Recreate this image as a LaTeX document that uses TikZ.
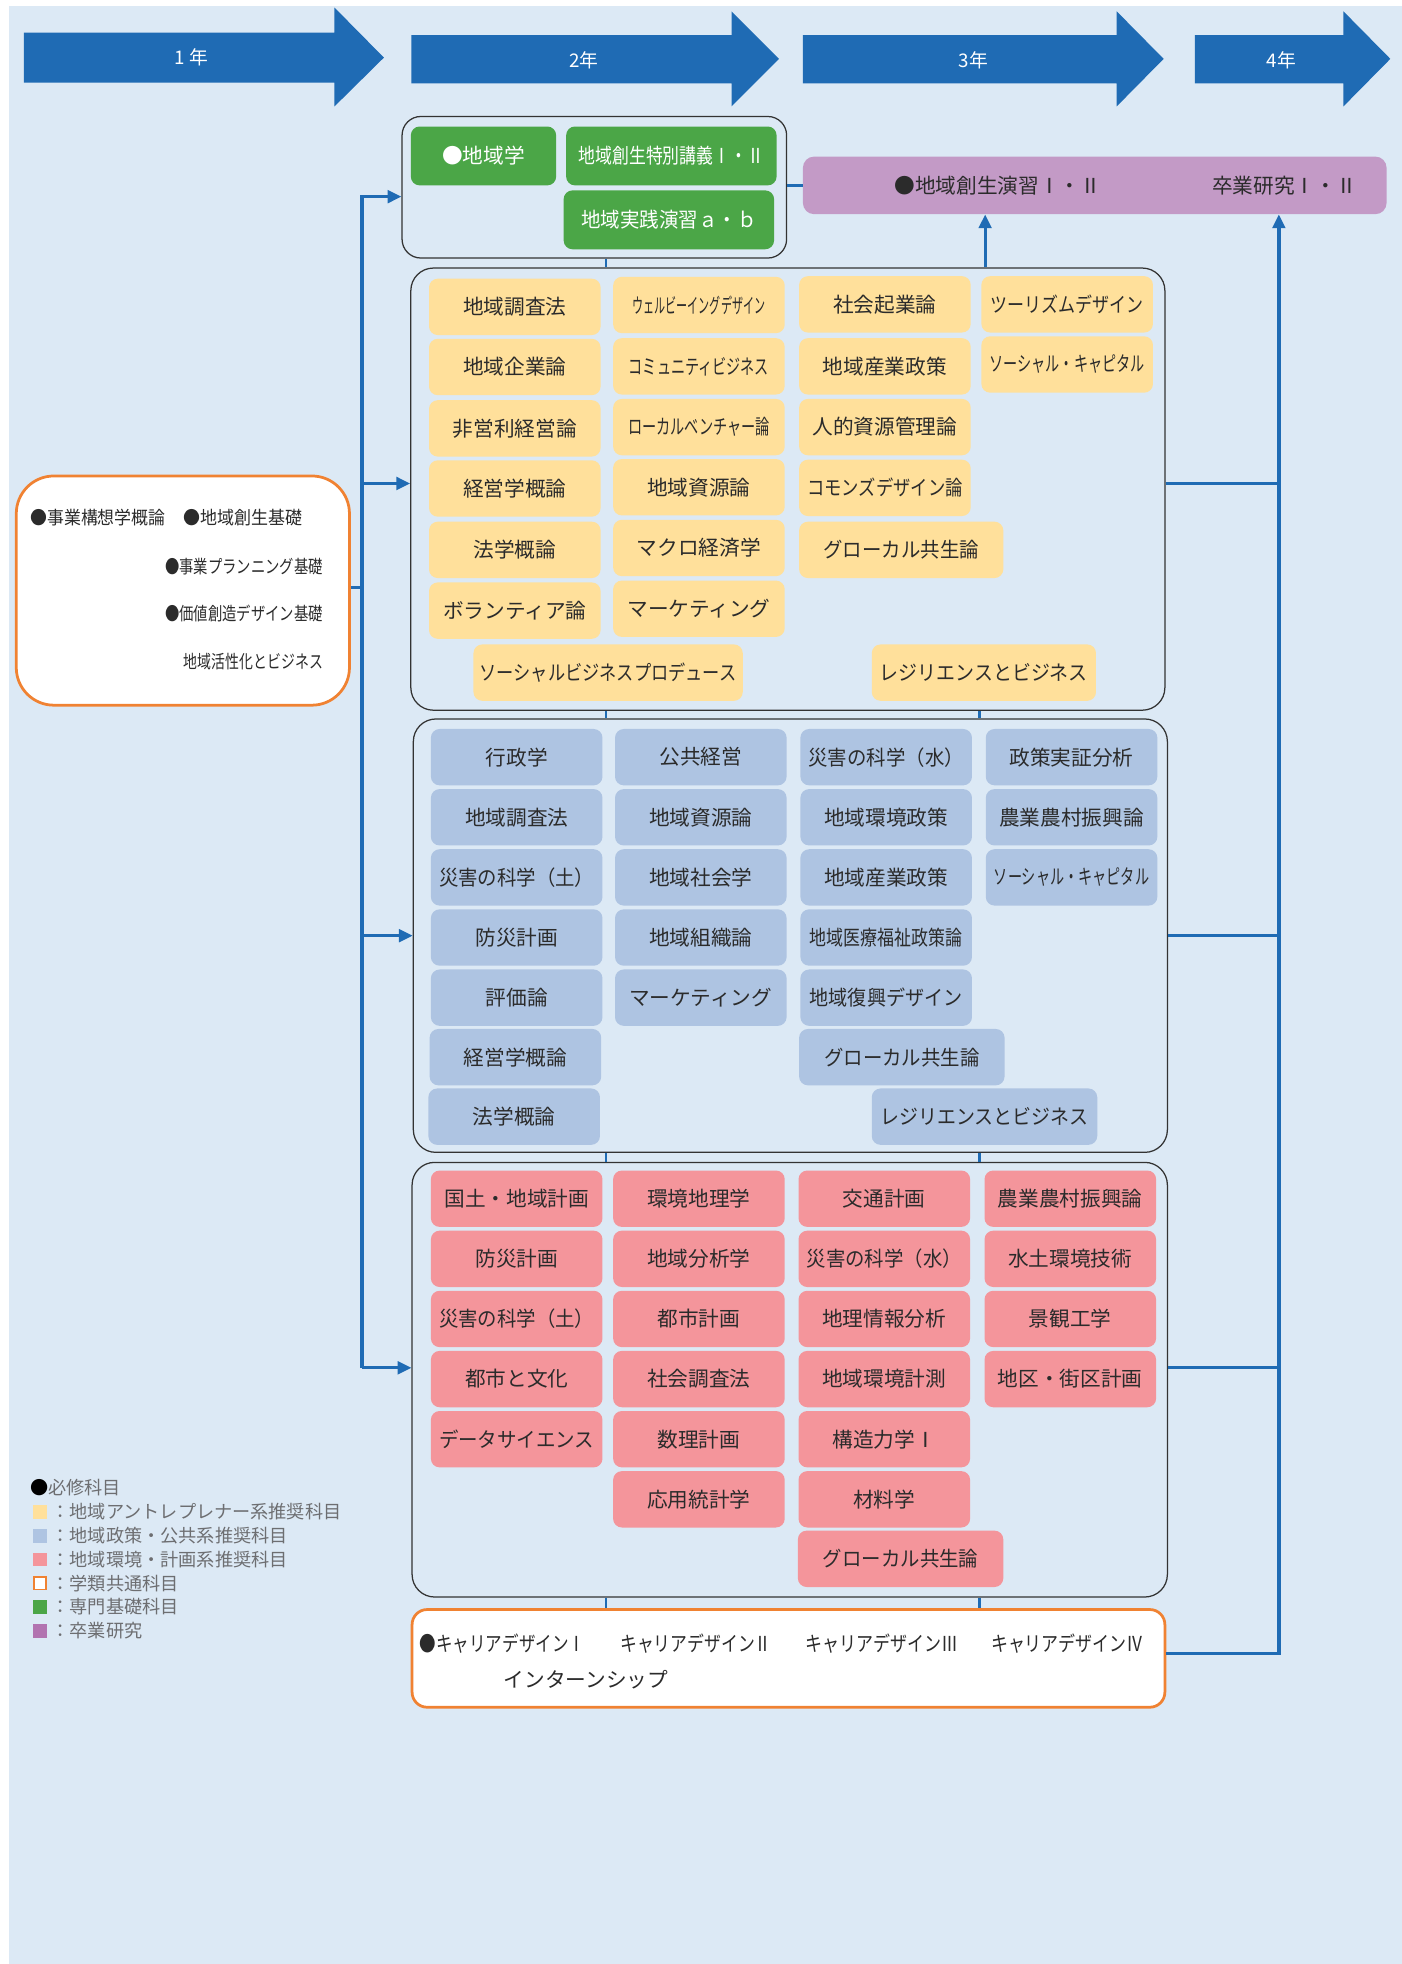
\documentclass[tikz,border=0pt]{standalone}
\usepackage{fontspec}
\usepackage{graphicx}
\usetikzlibrary{arrows.meta}
\newfontfamily\cjk{Noto Sans CJK JP}
\definecolor{cBg}{HTML}{DCE9F5}
\definecolor{cArr}{HTML}{1F6BB4}
\definecolor{cGrn}{HTML}{4BA647}
\definecolor{cPur}{HTML}{C39AC6}
\definecolor{cPurL}{HTML}{B273B0}
\definecolor{cYel}{HTML}{FFE09B}
\definecolor{cBlu}{HTML}{AEC4E2}
\definecolor{cRed}{HTML}{F4959B}
\definecolor{cOrg}{HTML}{F08232}
\definecolor{cTx}{HTML}{2B2B2B}
\definecolor{cLine}{HTML}{333333}
\definecolor{cLeg}{HTML}{6D6E71}
\newsavebox\fitsbox
\newcommand\fitx[2]{\sbox\fitsbox{#2}\ifdim\wd\fitsbox>#1pt\relax\resizebox*{#1pt}{\totalheight}{\usebox\fitsbox}\else\usebox\fitsbox\fi}
\tikzset{
  cbox/.style={rounded corners=7pt, minimum height=45pt, minimum width=137pt, inner sep=0pt, text=cTx, font=\cjk\fontsize{16.5}{18}\selectfont},
  yb/.style={cbox, fill=cYel},
  bb/.style={cbox, fill=cBlu},
  rbx/.style={cbox, fill=cRed},
  gb/.style={cbox, fill=cGrn, text=white, minimum height=47pt},
  grp/.style={draw=cLine, line width=1pt, rounded corners=18pt, inner sep=0pt},
  obox/.style={draw=cOrg, line width=2.2pt, fill=white, inner sep=0pt},
  conn/.style={draw=cArr, line width=2.6pt},
  lnk/.style={draw=cArr, line width=2pt},
  arr/.style={conn, -{Triangle[length=11pt,width=10pt]}},
  yr/.style={text=white, font=\cjk\fontsize{15}{16}\selectfont},
  ltx/.style={inner sep=0pt, text=cTx, font=\cjk\fontsize{14.5}{16}\selectfont},
  ctx/.style={inner sep=0pt, text=cTx, font=\cjk\fontsize{16.5}{18}\selectfont},
  lg/.style={anchor=west, inner sep=0pt, text=cLeg, font=\cjk\fontsize{14.5}{16}\selectfont},
  sq/.style={minimum size=11pt, inner sep=0pt},
}
\begin{document}
\begin{tikzpicture}[x=1pt,y=-1pt]
\useasboundingbox (0,0) rectangle (1119,1568);
\fill[white] (0,0) rectangle (1119,1568);
\fill[cBg] (7,5) rectangle (1119,1568);
% year arrows
\fill[cArr] (19,26) -- (267,26) -- (267,6) -- (306.5,46) -- (267,85) -- (267,66) -- (19,66) -- cycle;
\fill[cArr] (328.5,28) -- (584,28) -- (584,9) -- (622,47) -- (584,85) -- (584,66.5) -- (328.5,66.5) -- cycle;
\fill[cArr] (641,28) -- (891.5,28) -- (891.5,9) -- (929,47) -- (891.5,85) -- (891.5,66.5) -- (641,66.5) -- cycle;
\fill[cArr] (954,28) -- (1072.5,28) -- (1072.5,9) -- (1110,47) -- (1072.5,85) -- (1072.5,66.5) -- (954,66.5) -- cycle;
\node[yr] (yr1) at (153,46) {1 年};
\node[yr] (yr2) at (466,48) {2年};
\node[yr] (yr3) at (777,48) {3年};
\node[yr] (yr4) at (1023,48) {4年};
% groups
\node[grp, rounded corners=15pt, minimum width=307pt, minimum height=113pt] (gG) at (474.5,149.5) {};
\node[grp, minimum width=602pt, minimum height=353pt] (gY) at (629,390.5) {};
\node[grp, minimum width=602pt, minimum height=346pt] (gB) at (631,747) {};
\node[grp, minimum width=603pt, minimum height=347pt] (gR) at (630.5,1101.5) {};
\node[obox, rounded corners=12pt, minimum width=601pt, minimum height=78pt] (car) at (629.5,1324) {};
\node[obox, rounded corners=30pt, minimum width=266pt, minimum height=183pt] (lb) at (146,471.5) {};
\node[fill=cPur, rounded corners=9pt, inner sep=0pt, minimum width=466pt, minimum height=46pt] (pu) at (874,148) {};
\node[ctx] (pu1) at (796.5,148) {●地域創生演習Ⅰ・Ⅱ};
\node[ctx] (pu2) at (1025.5,148) {卒業研究Ⅰ・Ⅱ};
% green
\node[gb, minimum width=116pt] (g1) at (386,124.5) {●地域学};
\node[gb, minimum width=168pt] (g2) at (536,124.5) {\fitx{148}{地域創生特別講義Ⅰ・Ⅱ}};
\node[gb, minimum width=168pt] (g3) at (534,175.5) {\fitx{140}{地域実践演習ａ・ｂ}};
% yellow
\node[yb] (y11) at (411,245) {\fitx{124}{地域調査法}};
\node[yb] (y12) at (411,293) {\fitx{124}{地域企業論}};
\node[yb] (y13) at (411,342) {\fitx{124}{非営利経営論}};
\node[yb] (y14) at (411,390) {\fitx{124}{経営学概論}};
\node[yb] (y15) at (411,439) {\fitx{124}{法学概論}};
\node[yb] (y16) at (411,487.5) {\fitx{124}{ボランティア論}};
\node[yb] (y21) at (558,243.5) {\fitx{106}{ウェルビーイングデザイン}};
\node[yb] (y22) at (558,292.5) {\fitx{112}{コミュニティビジネス}};
\node[yb] (y23) at (558,341) {\fitx{113}{ローカルベンチャー論}};
\node[yb] (y24) at (558,389) {\fitx{124}{地域資源論}};
\node[yb] (y25) at (558,437.5) {\fitx{124}{マクロ経済学}};
\node[yb] (y26) at (558,486) {\fitx{124}{マーケティング}};
\node[yb] (y31) at (706.5,243) {\fitx{124}{社会起業論}};
\node[yb] (y32) at (706.5,292.5) {\fitx{124}{地域産業政策}};
\node[yb] (y33) at (706.5,341) {\fitx{124}{人的資源管理論}};
\node[yb] (y34) at (706.5,389.5) {\fitx{124}{コモンズデザイン論}};
\node[yb, minimum width=163pt] (y35) at (719.5,439) {\fitx{124}{グローカル共生論}};
\node[yb] (y41) at (852,243) {\fitx{122}{ツーリズムデザイン}};
\node[yb] (y42) at (852,291) {\fitx{124}{ソーシャル・キャピタル}};
\node[yb, minimum width=215pt] (y51) at (485.5,537) {\fitx{205}{ソーシャルビジネスプロデュース}};
\node[yb, minimum width=179pt] (y52) at (785.5,537) {\fitx{166}{レジリエンスとビジネス}};
% blue
\node[bb] (b11) at (412.5,604.5) {\fitx{124}{行政学}};
\node[bb] (b12) at (412.5,652.5) {\fitx{124}{地域調査法}};
\node[bb] (b13) at (412.5,700.5) {\fitx{124}{災害の科学（土）}};
\node[bb] (b14) at (412.5,748.5) {\fitx{124}{防災計画}};
\node[bb] (b15) at (412.5,796.5) {\fitx{124}{評価論}};
\node[bb] (b16) at (411.5,844) {\fitx{124}{経営学概論}};
\node[bb] (b17) at (410.5,891.5) {\fitx{124}{法学概論}};
\node[bb] (b21) at (559.5,604.5) {\fitx{124}{公共経営}};
\node[bb] (b22) at (559.5,652.5) {\fitx{124}{地域資源論}};
\node[bb] (b23) at (559.5,700.5) {\fitx{124}{地域社会学}};
\node[bb] (b24) at (559.5,748.5) {\fitx{124}{地域組織論}};
\node[bb] (b25) at (559.5,796.5) {\fitx{124}{マーケティング}};
\node[bb] (b31) at (707.5,604.5) {\fitx{124}{災害の科学（水）}};
\node[bb] (b32) at (707.5,652.5) {\fitx{124}{地域環境政策}};
\node[bb] (b33) at (707.5,700.5) {\fitx{124}{地域産業政策}};
\node[bb] (b34) at (707.5,748.5) {\fitx{122}{地域医療福祉政策論}};
\node[bb] (b35) at (707.5,796.5) {\fitx{122}{地域復興デザイン}};
\node[bb, minimum width=164pt] (b36) at (720,844) {\fitx{124}{グローカル共生論}};
\node[bb, minimum width=180pt] (b37) at (786,891.5) {\fitx{166}{レジリエンスとビジネス}};
\node[bb] (b41) at (855.5,604.5) {\fitx{124}{政策実証分析}};
\node[bb] (b42) at (855.5,652.5) {\fitx{124}{農業農村振興論}};
\node[bb] (b43) at (855.5,700.5) {\fitx{124}{ソーシャル・キャピタル}};
% red
\node[rbx] (r11) at (412.5,957) {\fitx{124}{国土・地域計画}};
\node[rbx] (r12) at (412.5,1005) {\fitx{124}{防災計画}};
\node[rbx] (r13) at (412.5,1053) {\fitx{124}{災害の科学（土）}};
\node[rbx] (r14) at (412.5,1101) {\fitx{124}{都市と文化}};
\node[rbx] (r15) at (412.5,1149) {\fitx{124}{データサイエンス}};
\node[rbx] (r21) at (558,957) {\fitx{124}{環境地理学}};
\node[rbx] (r22) at (558,1005) {\fitx{124}{地域分析学}};
\node[rbx] (r23) at (558,1053) {\fitx{124}{都市計画}};
\node[rbx] (r24) at (558,1101) {\fitx{124}{社会調査法}};
\node[rbx] (r25) at (558,1149) {\fitx{124}{数理計画}};
\node[rbx] (r26) at (558,1197) {\fitx{124}{応用統計学}};
\node[rbx] (r31) at (706,957) {\fitx{124}{交通計画}};
\node[rbx] (r32) at (706,1005) {\fitx{124}{災害の科学（水）}};
\node[rbx] (r33) at (706,1053) {\fitx{124}{地理情報分析}};
\node[rbx] (r34) at (706,1101) {\fitx{124}{地域環境計測}};
\node[rbx] (r35) at (706,1149) {\fitx{124}{構造力学Ⅰ}};
\node[rbx] (r36) at (706,1197) {\fitx{124}{材料学}};
\node[rbx, minimum width=164pt] (r37) at (719,1244.5) {\fitx{124}{グローカル共生論}};
\node[rbx] (r41) at (854.5,957) {\fitx{124}{農業農村振興論}};
\node[rbx] (r42) at (854.5,1005) {\fitx{124}{水土環境技術}};
\node[rbx] (r43) at (854.5,1053) {\fitx{124}{景観工学}};
\node[rbx] (r44) at (854.5,1101) {\fitx{124}{地区・街区計画}};
% left box texts
\node[ltx, anchor=west] (l1) at (24,413) {\fitx{108}{●事業構想学概論}};
\node[ltx, anchor=west] (l2) at (146,413) {\fitx{95}{●地域創生基礎}};
\node[ltx, anchor=east] (l3) at (258,452) {\fitx{126}{●事業プランニング基礎}};
\node[ltx, anchor=east] (l4) at (258,490) {\fitx{126}{●価値創造デザイン基礎}};
\node[ltx, anchor=east] (l5) at (258,528) {\fitx{111}{地域活性化とビジネス}};
% career texts
\node[ctx, anchor=west] (k1) at (335,1312) {\fitx{132}{●キャリアデザインⅠ}};
\node[ctx, anchor=west] (k2) at (495,1312) {\fitx{121}{キャリアデザインⅡ}};
\node[ctx, anchor=west] (k3) at (643,1312) {\fitx{122}{キャリアデザインⅢ}};
\node[ctx, anchor=west] (k4) at (791,1312) {\fitx{122}{キャリアデザインⅣ}};
\node[ctx, anchor=west] (k5) at (402,1341) {インターンシップ};
% connectors
\coordinate (busT) at (289,157);
\coordinate (busY) at (289,386);
\coordinate (busB) at (289,747);
\coordinate (busR) at (289,1092);
\coordinate (cL) at (484,0);
\coordinate (cR) at (782,0);
\coordinate (cP) at (786.5,0);
\coordinate (rbY) at (1021,386);
\coordinate (rbB) at (1021,747);
\coordinate (rbR) at (1021,1092);
\draw[arr] (busR) -- (busT) -- (gG.west |- busT);
\draw[arr] (busY) -- (gY.west |- busY);
\draw[arr] (busB) -- (gB.west |- busB);
\draw[arr] (busR) -- (gR.west |- busR);
\draw[conn] (lb.east |- 0,469) -- (busT |- 0,469);
\draw[conn] (gG.east |- pu.west) -- (pu.west);
\draw[lnk] (gG.south -| cL) -- (gY.north -| cL);
\draw[lnk] (gY.south -| cL) -- (gB.north -| cL);
\draw[lnk] (gB.south -| cL) -- (gR.north -| cL);
\draw[lnk] (gR.south -| cL) -- (car.north -| cL);
\draw[lnk] (gY.south -| cR) -- (gB.north -| cR);
\draw[lnk] (gB.south -| cR) -- (gR.north -| cR);
\draw[lnk] (gR.south -| cR) -- (car.north -| cR);
\draw[arr] (gY.north -| cP) -- (pu.south -| cP);
\draw[arr] (car.east |- 0,1320) -- (rbY |- 0,1320) -- (pu.south -| rbY);
\draw[conn] (gY.east |- rbY) -- (rbY);
\draw[conn] (gB.east |- rbB) -- (rbB);
\draw[conn] (gR.east |- rbR) -- (rbR);
% legend
\node[lg] (lg0) at (24,1188) {\textcolor{black}{●}必修科目};
\node[sq, fill=cYel] (s1) at (32,1207) {};
\node[lg] (lg1) at (41,1207) {：地域アントレプレナー系推奨科目};
\node[sq, fill=cBlu] (s2) at (32,1226) {};
\node[lg] (lg2) at (41,1226) {：地域政策・公共系推奨科目};
\node[sq, fill=cRed] (s3) at (32,1245) {};
\node[lg] (lg3) at (41,1245) {：地域環境・計画系推奨科目};
\node[sq, fill=white, draw=cOrg, line width=1.5pt, minimum size=10pt] (s4) at (32,1264) {};
\node[lg] (lg4) at (41,1264) {：学類共通科目};
\node[sq, fill=cGrn] (s5) at (32,1283) {};
\node[lg] (lg5) at (41,1283) {：専門基礎科目};
\node[sq, fill=cPurL] (s6) at (32,1302) {};
\node[lg] (lg6) at (41,1302) {：卒業研究};
\end{tikzpicture}
\end{document}
